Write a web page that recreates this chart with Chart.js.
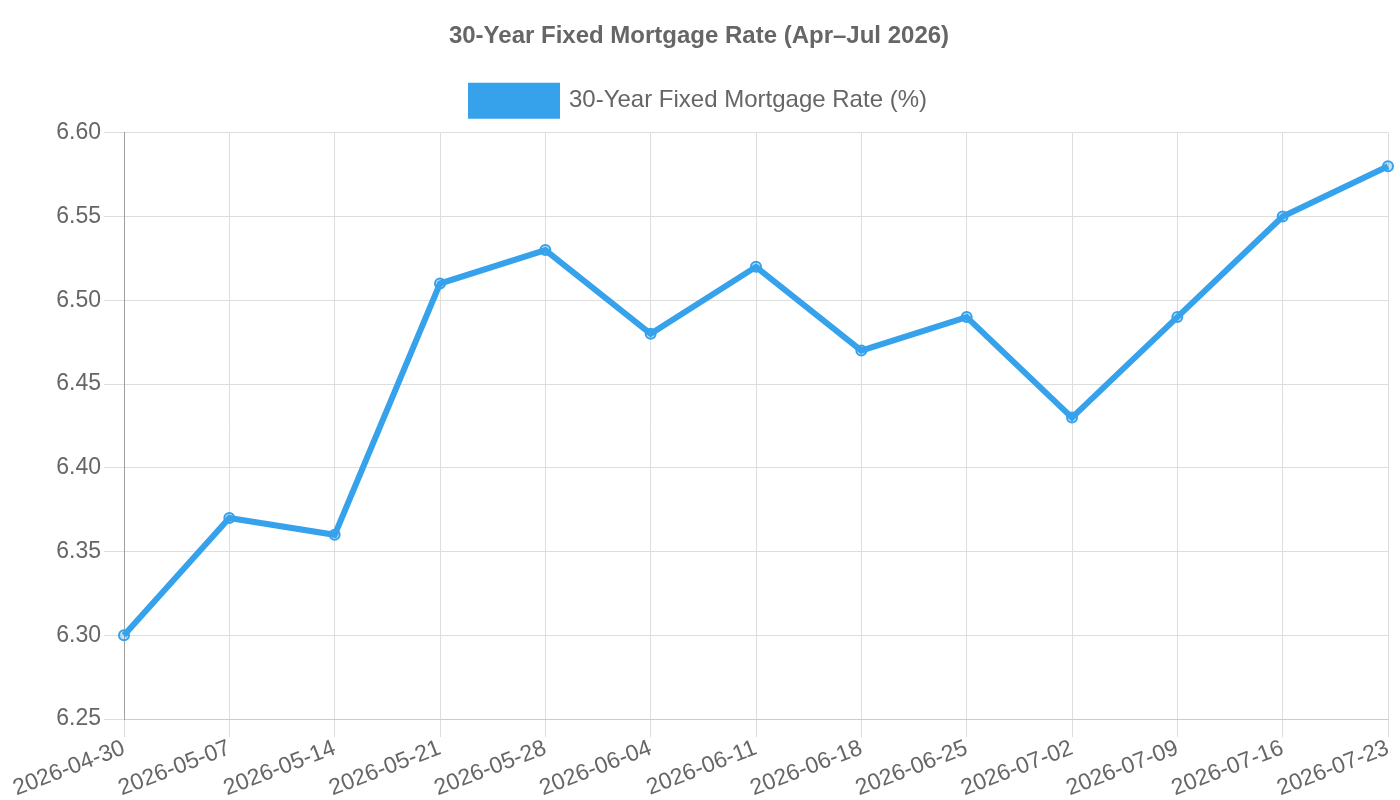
<!DOCTYPE html>
<html>
<head>
<meta charset="utf-8">
<script src="https://cdn.jsdelivr.net/npm/chart.js@4/dist/chart.umd.min.js"></script>
<style>
html,body{margin:0;padding:0;background:#fff;}
#wrap{width:1400px;height:800px;}
</style>
</head>
<body>
<div id="wrap"><canvas id="c"></canvas></div>
<script>
const dates = ["2026-04-30","2026-05-07","2026-05-14","2026-05-21","2026-05-28","2026-06-04","2026-06-11","2026-06-18","2026-06-25","2026-07-02","2026-07-09","2026-07-16","2026-07-23"];
const rates = [6.30,6.37,6.36,6.51,6.53,6.48,6.52,6.47,6.49,6.43,6.49,6.55,6.58];
const seriesLabel = "30-Year Fixed Mortgage Rate (%)";
const titleText = "30-Year Fixed Mortgage Rate (Apr\u2013Jul 2026)";

Chart.defaults.font.family = "'Liberation Sans', Arial, sans-serif";
Chart.defaults.color = "#666";

const legendSpacer = {
  id: 'legendSpacer',
  beforeInit(chart) {
    const orig = chart.legend.fit;
    chart.legend.fit = function () { orig.call(this); this.height += 7; };
  }
};

new Chart(document.getElementById('c'), {
  type: 'line',
  data: {
    labels: dates,
    datasets: [{
      label: seriesLabel,
      data: rates,
      borderColor: '#36A2EB',
      backgroundColor: '#36A2EB',
      borderWidth: 6,
      pointRadius: 5,
      pointBorderWidth: 2,
      pointBackgroundColor: 'rgba(54,162,235,0.3)',
      tension: 0,
      fill: false
    }]
  },
  plugins: [legendSpacer],
  options: {
    responsive: true,
    maintainAspectRatio: false,
    animation: false,
    layout: { padding: { left: 10, right: 12, top: 10, bottom: 0 } },
    plugins: {
      title: {
        display: true,
        text: titleText,
        font: { size: 24, weight: 'bold' },
        color: '#666',
        padding: { top: 12, bottom: 14 }
      },
      legend: {
        labels: {
          font: { size: 24 },
          boxWidth: 86,
          boxHeight: 30,
          color: '#666',
          padding: 21
        }
      }
    },
    scales: {
      x: {
        grid: { color: '#ddd', tickLength: 18 },
        border: { color: '#ccc' },
        ticks: { font: { size: 23 }, maxRotation: 21, minRotation: 21, color: '#666', padding: -2.5 }
      },
      y: {
        min: 6.25,
        max: 6.60,
        afterFit: (scale) => { scale.width = 114; },
        grid: { color: '#ddd', tickLength: 20 },
        border: { color: '#a0a0a0' },
        ticks: { stepSize: 0.05, font: { size: 23 }, color: '#666', padding: 3, callback: v => v.toFixed(2) }
      }
    }
  }
});
</script>
</body>
</html>
